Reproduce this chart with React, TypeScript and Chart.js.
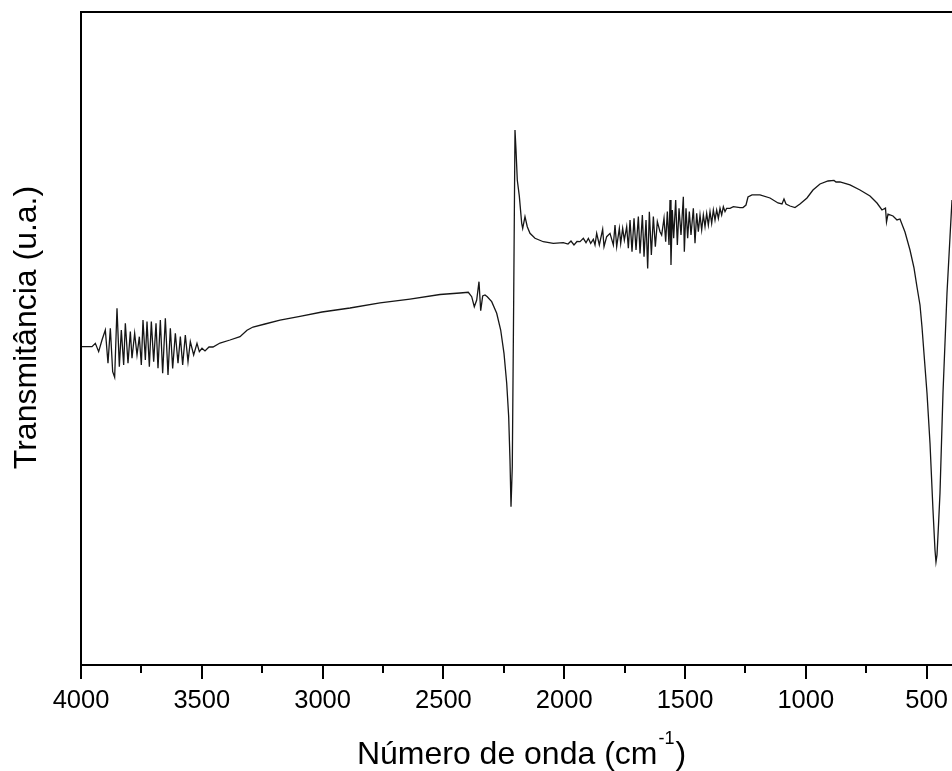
import React, { useEffect, useRef } from "react";
import { Chart, registerables } from "chart.js";

Chart.register(...registerables);

// FTIR spectrum (wavenumber in cm-1, transmittance in a.u.)
const wavenumber = [
  4000, 3954.5, 3940.7, 3926.9, 3913.1, 3899.3, 3888.3, 3878.6, 3868.9, 3860.7,
  3851.0, 3841.3, 3833.1, 3823.4, 3816.5, 3805.5, 3795.8, 3788.9, 3777.9, 3768.2,
  3758.5, 3750.3, 3743.4, 3733.7, 3726.8, 3717.1, 3708.9, 3699.2, 3689.5, 3681.3,
  3671.6, 3662.0, 3650.9, 3639.9, 3630.2, 3620.6, 3609.5, 3598.5, 3588.8, 3579.2,
  3568.2, 3557.1, 3547.5, 3533.7, 3519.9, 3510.2, 3499.2, 3486.8, 3470.2, 3453.7,
  3424.7, 3383.3, 3341.9, 3312.9, 3288.1, 3238.4, 3176.3, 3093.6, 3002.5, 2886.6,
  2762.4, 2638.3, 2514.1, 2431.3, 2397.0, 2382.9, 2372.1, 2362.2, 2352.7, 2345.6,
  2337.4, 2327.8, 2318.3, 2300.1, 2279.4, 2262.9, 2249.2, 2238.0, 2229.8, 2224.4,
  2220.2, 2214.9, 2209.1, 2203.7, 2199.5, 2194.2, 2185.9, 2175.9, 2171.8, 2162.3,
  2152.8, 2141.6, 2120.9, 2086.5, 2045.1, 2003.8, 1984.3, 1971.9, 1959.5, 1947.1,
  1934.6, 1920.8, 1909.8, 1900.1, 1890.4, 1879.4, 1872.5, 1865.6, 1854.6, 1840.8,
  1835.2, 1824.2, 1810.4, 1796.6, 1789.7, 1782.8, 1771.8, 1766.2, 1758.0, 1751.1,
  1741.4, 1734.5, 1727.6, 1719.3, 1711.0, 1702.8, 1693.1, 1686.2, 1676.5, 1669.6,
  1661.4, 1654.5, 1647.6, 1639.3, 1631.0, 1622.8, 1614.5, 1603.5,
  1596.6, 1586.9, 1580.0, 1573.1, 1566.2, 1562.1, 1558.0, 1552.4, 1546.9, 1538.6,
  1531.7, 1524.8, 1516.6, 1506.9, 1502.8, 1495.9, 1489.0, 1482.1, 1475.2, 1465.5,
  1458.6, 1451.7, 1444.8, 1437.9, 1431.0, 1424.1, 1417.2, 1410.3, 1403.4, 1396.5,
  1389.6, 1382.7, 1375.8, 1368.9, 1362.0, 1355.1, 1348.2, 1341.3, 1334.4, 1327.5,
  1313.7, 1299.9, 1272.3,
  1260.0, 1247.6, 1239.3, 1222.7, 1189.6, 1148.2, 1115.1, 1098.6, 1090.3, 1082.0,
  1065.4, 1044.8, 1024.1, 995.1, 970.3, 941.3, 908.2, 883.3, 875.0, 858.5,
  817.1, 775.7, 734.3, 705.4, 684.7, 670.2, 666.0, 659.8, 639.1, 622.6,
  610.2, 589.5, 568.8, 552.2, 539.8, 527.4, 519.1, 508.8, 498.4, 486.0,
  473.6, 465.3, 461.2, 457.0, 450.8, 444.6, 432.2, 415.6, 403.2, 394.9,
];

const transmittance = [
  48.75, 48.75, 49.26, 47.99, 49.77, 51.31, 46.2, 51.56, 44.92, 44.06,
  54.62, 45.69, 51.31, 45.95, 52.33, 46.2, 51.05, 46.97, 50.8, 47.48,
  50.28, 45.95, 52.84, 46.71, 52.58, 45.69, 52.58, 46.46, 52.33, 45.43,
  52.84, 44.67, 53.09, 44.41, 51.56, 45.43, 50.8, 46.2, 50.28, 45.95,
  50.54, 46.46, 49.52, 47.48, 49.26, 47.99, 48.5, 48.09, 48.7, 48.7,
  49.31, 49.77, 50.28, 51.27, 51.76, 52.22, 52.83, 53.39, 54.06, 54.67,
  55.44, 56.04, 56.74, 56.97, 57.08, 56.4, 54.87, 55.89, 58.7, 54.26,
  56.51, 56.66, 56.4, 55.64, 53.86, 51.3, 47.73, 43.14, 38.02, 31.39,
  24.24, 30.37, 55.9, 81.93, 78.87, 74.27, 71.84, 67.64, 66.87, 68.65,
  67.12, 66.11, 65.35, 64.82, 64.58, 64.67, 64.47, 64.93, 64.32, 64.85,
  64.83, 65.34, 64.67, 65.34, 64.57, 65.18, 64.32, 66.1, 64.32, 66.72,
  64.06, 65.59, 66.1, 64.32, 67.38, 64.06, 66.87, 64.57, 66.87, 65.08,
  67.13, 63.81, 68.15, 63.3, 68.4, 63.55, 68.66, 63.04, 68.91, 62.53,
  68.15, 60.74, 69.42, 62.79, 68.66, 64.06, 67.89, 66.36,
  65.85, 68.41, 64.83, 69.43, 64.32, 71.21, 61.26, 69.68, 65.34, 71.21,
  64.32, 69.94, 65.85, 71.72, 63.3, 69.94, 65.34, 69.43, 65.85, 69.94,
  64.58, 69.17, 66.36, 68.92, 66.62, 68.92, 67.13, 69.17, 67.38, 69.43,
  67.64, 69.68, 68.15, 69.68, 68.41, 69.94, 68.92, 70.19, 69.43, 69.94,
  69.94, 70.19, 70.04,
  70.06, 70.44, 71.67, 71.98, 71.98, 71.52, 70.76, 70.6, 71.36, 70.6,
  70.29, 70.06, 70.6, 71.52, 72.74, 73.66, 74.12, 74.2, 73.97, 73.97,
  73.51, 72.74, 71.82, 70.75, 69.68, 69.98, 67.84, 69.06, 68.76, 68.15,
  68.3, 66.31, 63.55, 60.8, 57.89, 55.13, 51.76, 46.71, 41.65, 34.0,
  23.74, 17.61, 15.77, 16.85, 21.44, 26.34, 41.65, 56.97, 65.54, 71.21,
];

const majorTicks = [4000, 3500, 3000, 2500, 2000, 1500, 1000, 500];
const minorTicks = [3750, 3250, 2750, 2250, 1750, 1250, 750];

const xTitleMain = "Número de onda (cm";
const xTitleSup = "-1";
const xTitleEnd = ")";
const yTitle = "Transmitância (u.a.)";

const FONT = '"Liberation Sans", Arial, Helvetica, sans-serif';

const framePlugin = {
  id: "framePlugin",
  afterDraw(chart: any) {
    const { ctx, chartArea, scales } = chart;
    const xs = scales.x;
    const { left, right, top, bottom } = chartArea;
    ctx.save();
    ctx.strokeStyle = "#000";
    ctx.fillStyle = "#000";
    ctx.lineWidth = 2;
    ctx.lineJoin = "miter";
    ctx.beginPath();
    ctx.moveTo(right + 2, top);
    ctx.lineTo(left, top);
    ctx.lineTo(left, bottom);
    ctx.lineTo(right + 2, bottom);
    ctx.stroke();

    ctx.beginPath();
    for (const v of majorTicks) {
      const x = Math.round(xs.getPixelForValue(v));
      ctx.moveTo(x, bottom);
      ctx.lineTo(x, bottom + 14);
    }
    for (const v of minorTicks) {
      const x = Math.round(xs.getPixelForValue(v));
      ctx.moveTo(x, bottom);
      ctx.lineTo(x, bottom + 8);
    }
    ctx.stroke();

    ctx.font = `25.5px ${FONT}`;
    ctx.textAlign = "center";
    ctx.textBaseline = "alphabetic";
    for (const v of majorTicks) {
      const x = xs.getPixelForValue(v);
      ctx.fillText(String(v), x, bottom + 43);
    }

    // x title with superscript
    const mainFont = `32px ${FONT}`;
    const supFont = `18px ${FONT}`;
    ctx.font = mainFont;
    const w1 = ctx.measureText(xTitleMain).width;
    const w3 = ctx.measureText(xTitleEnd).width;
    ctx.font = supFont;
    const w2 = ctx.measureText(xTitleSup).width;
    const total = w1 + w2 + w3 + 2;
    const cx = (left + right) / 2 + 5;
    let sx = cx - total / 2;
    const baseY = bottom + 99;
    ctx.textAlign = "left";
    ctx.font = mainFont;
    ctx.fillText(xTitleMain, sx, baseY);
    sx += w1 + 1;
    ctx.font = supFont;
    ctx.fillText(xTitleSup, sx, baseY - 20);
    sx += w2 + 1;
    ctx.font = mainFont;
    ctx.fillText(xTitleEnd, sx, baseY);

    // y title
    ctx.save();
    ctx.translate(36, (top + bottom) / 2 - 11);
    ctx.rotate(-Math.PI / 2);
    ctx.textAlign = "center";
    ctx.font = mainFont;
    ctx.fillText(yTitle, 0, 0);
    ctx.restore();

    ctx.restore();
  },
};

export default function App() {
  const canvasRef = useRef<HTMLCanvasElement | null>(null);

  useEffect(() => {
    document.body.style.margin = "0";
    const canvas = canvasRef.current;
    if (!canvas) return;
    const points = wavenumber.map((w, i) => ({ x: w, y: transmittance[i] }));
    const chart = new Chart(canvas, {
      type: "line",
      data: {
        datasets: [
          {
            data: points,
            borderColor: "#161616",
            borderWidth: 1.3,
            pointRadius: 0,
            tension: 0,
            fill: false,
          },
        ],
      },
      options: {
        animation: false,
        responsive: false,
        maintainAspectRatio: false,
        parsing: true,
        layout: { padding: { top: 12, left: 0, right: 0, bottom: 0 } },
        plugins: {
          legend: { display: false },
          tooltip: { enabled: false },
          title: { display: false },
        },
        scales: {
          x: {
            type: "linear",
            min: 394.9,
            max: 4000,
            reverse: true,
            ticks: { display: false },
            grid: { display: false },
            border: { display: false },
            afterFit: (s: any) => {
              s.height = 106;
            },
          },
          y: {
            type: "linear",
            min: 0,
            max: 100,
            ticks: { display: false },
            grid: { display: false },
            border: { display: false },
            afterFit: (s: any) => {
              s.width = 81;
            },
          },
        },
      },
      plugins: [framePlugin],
    });
    return () => chart.destroy();
  }, []);

  return (
    <div style={{ width: 952, height: 771, background: "#fff" }}>
      <canvas ref={canvasRef} width={952} height={771} style={{ display: "block" }} />
    </div>
  );
}
